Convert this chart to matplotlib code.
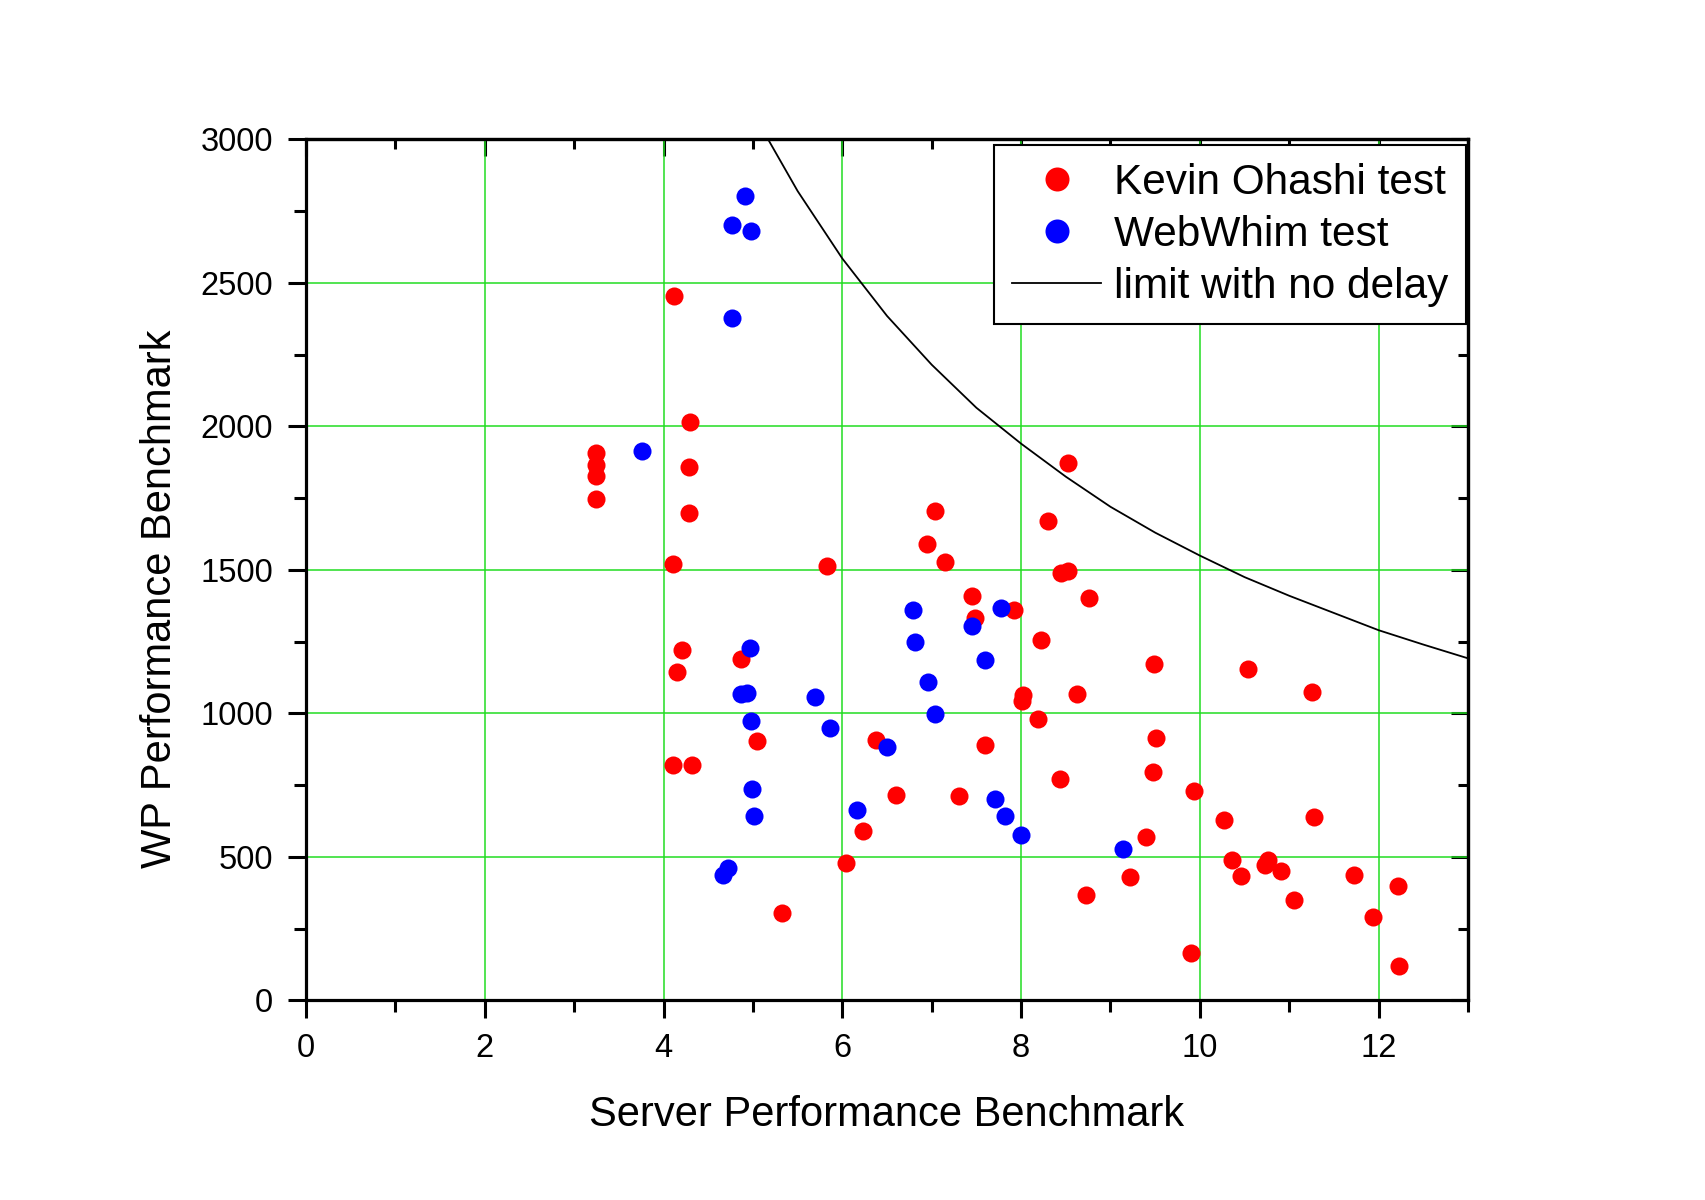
import matplotlib
matplotlib.use("Agg")
import matplotlib.pyplot as plt
from matplotlib.ticker import MultipleLocator

# Kevin Ohashi test (red)
kevin_x = [4.12, 4.29, 3.24, 3.24, 3.24, 3.24, 4.28, 4.28, 4.11, 5.83, 7.04, 6.95, 7.15,
           8.53, 8.30, 8.45, 8.52, 8.76, 7.45, 7.48, 7.92, 8.22, 4.21, 4.15, 4.11, 4.32,
           4.87, 8.02, 8.01, 8.62, 8.19, 5.04, 6.38, 7.60, 8.44, 6.60, 7.30, 6.23, 6.04,
           5.33, 8.73, 9.49, 10.54, 11.26, 9.51, 9.48, 9.93, 10.27, 11.28, 9.40, 10.36,
           10.46, 10.76, 10.73, 10.91, 11.73, 12.22, 9.22, 11.05, 11.94, 9.90, 12.23]
kevin_y = [2453, 2017, 1907, 1866, 1826, 1747, 1857, 1698, 1522, 1515, 1707, 1590, 1528,
           1872, 1669, 1488, 1498, 1401, 1410, 1332, 1361, 1256, 1221, 1144, 821, 821,
           1190, 1064, 1045, 1068, 981, 904, 908, 890, 771, 717, 714, 592, 478,
           306, 367, 1173, 1154, 1073, 914, 796, 730, 630, 638, 571, 489,
           435, 489, 472, 452, 438, 399, 429, 350, 292, 166, 120]

# WebWhim test (blue)
webwhim_x = [3.76, 4.91, 4.76, 4.98, 4.76, 6.79, 7.78, 7.45, 6.81, 7.60, 4.97, 6.96,
             4.87, 4.93, 5.69, 7.04, 4.98, 5.86, 6.50, 4.99, 5.01, 6.16, 7.71, 7.82,
             8.00, 9.14, 4.72, 4.67]
webwhim_y = [1915, 2802, 2702, 2682, 2378, 1359, 1369, 1303, 1250, 1187, 1227, 1108,
             1068, 1070, 1057, 998, 972, 951, 882, 738, 643, 664, 701, 643,
             577, 529, 460, 437]

# limit with no delay
limit_x = [5.17, 5.5, 6.0, 6.5, 7.0, 7.5, 8.0, 8.5, 9.0, 9.5, 10.0, 10.5, 11.0, 11.5,
           12.0, 12.5, 13.0]
limit_y = [3000, 2820, 2585, 2385, 2215, 2065, 1940, 1825, 1720, 1630, 1550, 1475, 1410,
           1350, 1290, 1240, 1192]

plt.rcParams["font.family"] = ["Liberation Sans", "DejaVu Sans"]

fig = plt.figure(figsize=(17.06, 12), dpi=100)
ax = fig.add_axes([0.1794, 0.1663, 0.6811, 0.7175])

line, = ax.plot(limit_x, limit_y, color="black", lw=1.3, zorder=3)
red, = ax.plot(kevin_x, kevin_y, "o", color="#ff0000", ms=13, mec="none", zorder=4)
blue, = ax.plot(webwhim_x, webwhim_y, "o", color="#0000ff", ms=13, mec="none", zorder=5)

ax.set_xlim(0, 13)
ax.set_ylim(0, 3000)
ax.xaxis.set_major_locator(MultipleLocator(2))
ax.xaxis.set_minor_locator(MultipleLocator(1))
ax.yaxis.set_major_locator(MultipleLocator(500))
ax.yaxis.set_minor_locator(MultipleLocator(250))

ax.set_axisbelow(True)
ax.grid(True, which="major", color="#22dd22", lw=1.1)

for s in ax.spines.values():
    s.set_linewidth(2.3)

ax.tick_params(which="major", direction="out", length=13, width=2.2, labelsize=23.5, pad=10.8)
ax.tick_params(which="minor", direction="out", length=8.5, width=2.2)

secx = ax.secondary_xaxis("top")
secx.xaxis.set_major_locator(MultipleLocator(2))
secx.xaxis.set_minor_locator(MultipleLocator(1))
secx.tick_params(which="major", direction="in", length=12, width=2.2, labeltop=False)
secx.tick_params(which="minor", direction="in", length=7, width=2.2)
secx.spines["top"].set_linewidth(2.3)

secy = ax.secondary_yaxis("right")
secy.yaxis.set_major_locator(MultipleLocator(500))
secy.yaxis.set_minor_locator(MultipleLocator(250))
secy.tick_params(which="major", direction="in", length=12, width=2.2, labelright=False)
secy.tick_params(which="minor", direction="in", length=7, width=2.2)
secy.spines["right"].set_linewidth(2.3)

ax.set_xlabel("Server Performance Benchmark", fontsize=30, labelpad=22)
ax.set_ylabel("WP Performance Benchmark", fontsize=30, labelpad=14.5)
ax.yaxis.label.set_y(0.4668)

leg = ax.legend([red, blue, line],
                ["Kevin Ohashi test", "WebWhim test", "limit with no delay"],
                loc="upper right", bbox_to_anchor=(1.0, 0.996), fontsize=30.5,
                markerscale=1.33, handlelength=2.1, handletextpad=0.3,
                labelspacing=0.28, borderpad=0.42, borderaxespad=0.05,
                fancybox=False, framealpha=1)
leg.get_frame().set_edgecolor("black")
leg.get_frame().set_linewidth(1.5)

fig.savefig("out.png", dpi=100)
